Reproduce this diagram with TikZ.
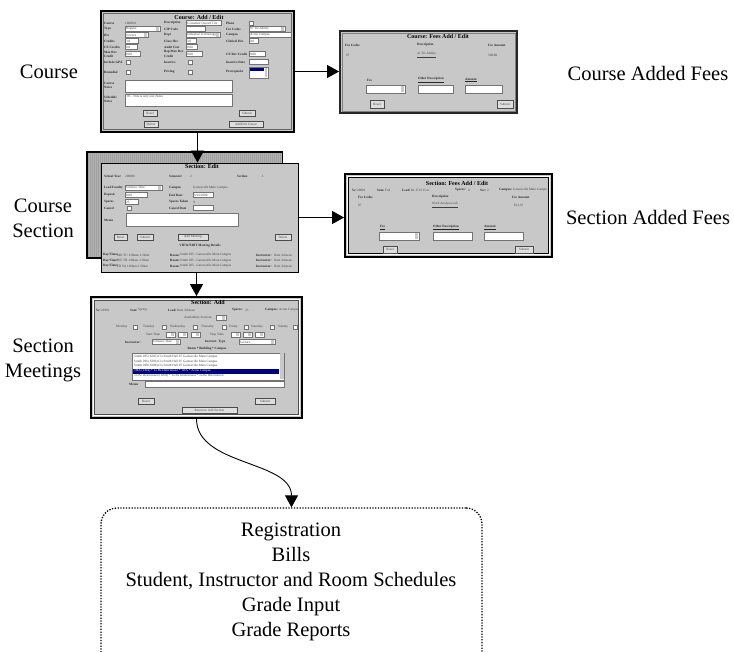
\documentclass[tikz,border=0pt]{standalone}
\usepackage{fontspec}
\setmainfont{Liberation Serif}
\usetikzlibrary{arrows.meta,fit}
\definecolor{scr}{RGB}{200,200,200}
\definecolor{navy}{RGB}{0,0,128}
\newcounter{tn}
\newcommand\tl[4][tlab]{\stepcounter{tn}\node[#1] (t\arabic{tn}) at ({#2},{#3}) {#4};}
\newcommand\myfld[4]{\draw[fldst] (#1,#2) rectangle (#3,#4);}
\newcommand\mydd[4]{\draw[fldst] (#1,#2) rectangle (#3,#4);\fill[scr] ({#3-4},{#2+0.6}) rectangle ({#3-0.6},{#4-0.6});}
\newcommand\mycb[2]{\draw[fldst] (#1,{#2-2}) rectangle ({#1+4},{#2+2});}
\newcommand\mybtn[5]{\draw[btnst] (#1,#2) rectangle (#3,#4);\tl[tval,anchor=center]{(#1+#3)/2}{(#2+#4)/2}{#5}}
\tikzset{
  tlab/.style={font=\fontsize{3.3}{3.8}\selectfont\bfseries, anchor=west, inner sep=0, text=black!85},
  tval/.style={font=\fontsize{3.3}{3.8}\selectfont, anchor=west, inner sep=0, text=black!75},
  ttitle/.style={font=\fontsize{6}{7}\selectfont\bfseries, inner sep=0},
  bigtxt/.style={font=\fontsize{20.5}{25}\selectfont, align=center, inner sep=0},
  fldst/.style={fill=white, draw=black!55, line width=0.35pt},
  btnst/.style={fill=scr!60!white, draw=black!70, line width=0.4pt},
  shot/.style={fill=scr, draw=black, line width=1.6pt, inner sep=0},
  arr/.style={draw=black, line width=0.9pt, -{Triangle[length=12pt,width=13pt]}},
}
\begin{document}
\begin{tikzpicture}[x=1pt,y=-1pt]
\useasboundingbox (0,0) rectangle (734,652);
\clip (0,0) rectangle (734,652);
\fill[white] (0,0) rectangle (734,652);

% ---------------- Course: Add / Edit
\node[shot, fit={(101,11) (294,132)}] (course) {};
\draw[black!60, line width=0.5pt] (103.5,13.5) rectangle (291.5,129.5);
\node[ttitle] (tcourse) at (199,17) {Course: Add / Edit};
\tl{104}{23}{Course}\tl[tval]{125}{23}{1000011}
\tl{164}{23}{Description}\myfld{186}{20.5}{221}{25.5}\tl[tval]{187}{23}{Consumer Owned Tire}
\tl{226}{23}{Phase}\mycb{249}{23}
\tl{104}{29}{Type}\mydd{125}{26.5}{160}{31.5}\tl[tval]{126}{29}{Regular}
\tl{164}{29}{CIP Code}\myfld{186}{26.5}{205}{31.5}
\tl{226}{29}{Fee Codes}\mydd{249}{26.5}{285}{31.5}\tl[tval]{250}{29}{07 Tix Ability}
\tl{104}{35}{Div}\mydd{125}{32.5}{148}{37.5}\tl[tval]{126}{35}{Science}
\tl{164}{35}{Dept}\mydd{186}{32.5}{220}{37.5}\tl[tval]{187}{35}{Industrial Technology}
\tl{226}{35}{Campus}\myfld{249}{32.5}{291}{37.5}\tl[tval]{250}{35}{Acme Campus}
\tl{104}{41}{Credits}\myfld{125}{38.5}{138}{43.5}\tl[tval]{126}{41}{3.0}
\tl{164}{41}{Class Hrs}\myfld{186}{38.5}{196}{43.5}\tl[tval]{187}{41}{3.0}
\tl{226}{41}{Clinical Hrs}\myfld{249}{38.5}{258}{43.5}\tl[tval]{250}{41}{0.0}
\tl{104}{47}{CE Credits}\myfld{125}{44.5}{137}{49.5}\tl[tval]{126}{47}{0.0}
\tl{164}{47}{Audit Cost}\myfld{186}{44.5}{197}{49.5}\tl[tval]{187}{47}{0.00}
\tl{104}{52}{Max Rev}\tl{104}{56}{Credit}\myfld{125}{51.5}{140}{56.5}\tl[tval]{126}{54}{0.00}
\tl{164}{52}{Rep Max Rev}\tl{164}{56}{Credit}\myfld{186}{51.5}{202}{56.5}\tl[tval]{187}{54}{0.00}
\tl{226}{54}{CE Rev Credit}\myfld{249}{51.5}{265}{56.5}\tl[tval]{250}{54}{0.00}
\tl{104}{62}{Include GPA}\mycb{126}{62}
\tl{164}{62}{Inactive}\mycb{188}{62}
\tl{226}{62}{Inactive Date}\myfld{249}{59.5}{268}{64.5}
\tl{104}{72}{Remedial}\mycb{126}{72}
\tl{164}{72}{Pricing}\mycb{188}{72}
\tl{226}{72}{Prerequisite}\myfld{249}{67}{268}{78}
\fill[navy] (249.6,67.6) rectangle (264,71.2);
\fill[scr] (264.5,67.6) rectangle (267.4,77.4);
\tl{104}{83}{Course}\tl{104}{87}{Notes}\myfld{125}{80}{232}{92}
\tl{104}{97}{Schedule}\tl{104}{101}{Notes}\myfld{125}{94}{232}{106}
\tl[tval]{127}{96.8}{05 - This is only one Notes}
\mybtn{143}{110}{157}{116}{Reset}
\mybtn{239}{110}{255}{116}{Submit}
\mybtn{144}{121}{158}{127}{Delete}
\mybtn{229}{121}{263}{127}{Add/Edit Course}

% ---------------- Course: Fees Add / Edit
\node[shot, draw=black!85, line width=1.8pt, fit={(340,31) (517,113)}] (cfees) {};
\draw[black!50, line width=0.4pt] (342,33) rectangle (515,111);
\node[ttitle] (tcfees) at (438,36) {Course: Fees Add / Edit};
\tl{345}{45}{Fee Codes}\tl{417}{45}{Description}\tl{488}{45}{Fee Amount}
\tl[tval]{346}{55}{07}\tl[tval]{417}{55}{\underline{At Tix Ability}}\tl[tval]{488}{55}{500.00}
\tl{367}{80}{Fee}\mydd{366}{85}{405}{93}
\tl{418}{80}{\underline{Other Description}}\myfld{418}{85}{453}{93}
\tl{465}{80}{\underline{Amount}}\myfld{465}{85}{502}{93}
\mybtn{370}{100}{384}{108}{Reset}
\mybtn{497}{100}{513}{108}{Submit}

% ---------------- Section: Edit (stacked)
\node[fill=scr!80!black, draw=black, line width=1.4pt, inner sep=0, fit={(87,152) (282,258)}] (secb) {};
\foreach \xx in {89,91,...,281} \draw[black!30, line width=0.5pt] (\xx,153) -- (\xx,257);
\node[shot, line width=0.9pt, fit={(101,163) (298,272)}] (secf) {};
\node[ttitle] (tsec) at (202,166.5) {Section: Edit};
\tl{104}{176}{School Year}\tl[tval]{125}{176}{200001}
\tl{169}{176}{Semester}\tl[tval]{190}{176}{2}
\tl{237}{176}{Section}\tl[tval]{262}{176}{1}
\tl{104}{188}{Lead Faculty}\mydd{125}{185.5}{162}{190.5}\tl[tval]{126}{188}{Johnson, Dale}
\tl{169}{188}{Campus}\tl[tval]{193}{188}{Gainesville Main Campus}
\tl{104}{195}{Deposit}\myfld{125}{192.5}{147}{197.5}\tl[tval]{126}{195}{0.00}
\tl{169}{195}{End Date}\myfld{193}{192.5}{213}{197.5}\tl[tval]{194}{195}{5/01/2000}
\tl{104}{202}{Spaces}\myfld{125}{199.5}{138}{204.5}\tl[tval]{126}{202}{25}
\tl{169}{202}{Spaces Taken}\tl[tval]{193}{202}{0}
\tl{104}{208}{Cancel}\mycb{127}{208}
\tl{169}{208}{Cancel Date}\myfld{193}{205.5}{213}{210.5}
\tl{104}{220}{Memo}\myfld{126}{213}{238}{226}
\mybtn{114}{234}{127}{240}{Reset}
\mybtn{137}{234}{153}{240}{Submit}
\mybtn{178}{234}{208}{240}{Add Meeting}
\mybtn{275}{234}{291}{240}{Delete}
\node[tlab, anchor=center] (tview) at (200,246) {VIEW/EDIT Meeting Details};
\foreach \yy/\dd in {255/MO TU 1:00am-1:50am, 260.5/WE TH 1:00am-1:50am, 266/FR SA 1:00am-1:50am}{
  \tl{103}{\yy}{Day/Time:}\tl[tval]{117}{\yy}{\dd}
  \tl{170}{\yy}{Room:}\tl[tval]{180}{\yy}{Smith 205 - Gainesville Main Campus}
  \tl{256}{\yy}{Instructor:}\tl[tval]{274}{\yy}{Dale Johnson}
}

% ---------------- Section: Fees Add / Edit
\node[shot, line width=1.8pt, fit={(345,174) (552,257)}] (sfees) {};
\draw[white, line width=0.8pt] (347.2,176.2) rectangle (549.8,254.8);
\draw[black, line width=0.6pt] (348.3,177.3) rectangle (548.7,253.7);
\node[ttitle] (tsfees) at (457,183) {Section: Fees Add / Edit};
\tl{352}{190}{Sc:}\tl[tval]{357}{190}{20001}
\tl{377}{190}{Sem:}\tl[tval]{385}{190}{Fall}
\tl{402}{190}{Lead:}\tl[tval]{411}{190}{Dr. E.D. Fort}
\tl{455}{190}{Spaces:}\tl[tval]{468}{190}{0}
\tl{480}{190}{Sec:}\tl[tval]{487}{190}{2}
\tl{499}{190}{Campus:}\tl[tval]{513}{190}{Gainesville Main Campus}
\tl{358}{197}{Fee Codes}\tl{432}{197}{Description}\tl{512}{197}{Fee Amount}
\tl[tval]{358}{205}{07}\tl[tval]{432}{205}{\underline{Work Analysis Lab}}\tl[tval]{514}{205}{\$21.35}
\tl{380}{227.5}{\underline{Fee}}\mydd{379}{232}{419}{240}
\tl{433}{227.5}{\underline{Other Description}}\myfld{433}{232}{472}{240}
\tl{484}{227.5}{\underline{Amount}}\myfld{484}{232}{523}{240}
\mybtn{383}{246}{397}{253}{Reset}
\mybtn{515}{246}{533}{253}{Submit}

% ---------------- Section: Add
\node[shot, line width=1.8pt, fit={(91,297) (302,418)}] (sadd) {};
\draw[white, line width=0.8pt] (93.2,299.2) rectangle (299.8,415.8);
\draw[black!70, line width=0.5pt] (94.3,300.3) rectangle (298.7,414.7);
\node[ttitle] (tsadd) at (208,302.5) {Section: Add};
\tl{96}{310}{Sc:}\tl[tval]{101}{310}{20301}
\tl{130}{310}{Sem:}\tl[tval]{138}{310}{Spring}
\tl{168}{310}{Lead:}\tl[tval]{177}{310}{Dale Johnson}
\tl{232}{310}{Spaces:}\tl[tval]{245}{310}{25}
\tl{265}{310}{Campus:}\tl[tval]{279}{310}{Acme Campus}
\tl[tval]{184}{318}{Availability Sections}\mydd{216}{315.5}{226}{320.5}
\foreach \lx/\cx/\dn in {116/133/Monday, 143/162/Tuesday, 170/193/Wednesday, 201/222/Thursday, 229/244/Friday, 251/270/Saturday, 278/293/Sunday}{
  \tl[tval]{\lx}{327}{\dn}\mycb{\cx}{327}
}
\tl[tval]{146}{334.5}{Start Time}
\mydd{166}{332}{175}{337}\mydd{178}{332}{187}{337}\mydd{191}{332}{200}{337}
\tl[tval]{210}{334.5}{Stop Time}
\mydd{231}{332}{240}{337}\mydd{243}{332}{252}{337}\mydd{255}{332}{264}{337}
\tl{125}{342}{Instructor:}\mydd{152}{339.5}{180}{344.5}\tl[tval]{153}{342}{Johnson, Dale}
\tl{205}{342}{Instruct. Type}\mydd{239}{339.5}{275}{344.5}\tl[tval]{240}{342}{Lecture}
\node[tlab, anchor=center] (troom) at (207,348.5) {Room * Building * Campus};
\myfld{132}{353}{284}{380}
\fill[navy] (132.5,369) rectangle (279,373.6);
\fill[scr] (279.5,353.5) rectangle (283.5,379.5);
\tl[tval]{134}{357}{Smith 205 (S205) Cls Smith Hall 07 Gainesville Main Campus}
\tl[tval]{134}{361.6}{Smith 206 (S206) Cls Smith Hall 07 Gainesville Main Campus}
\tl[tval]{134}{366.2}{Smith 208 (S208) Cls Smith Hall 07 Gainesville Main Campus}
\tl[tval,text=white]{134}{371.2}{TBA (TBA) * To Be Determined * TBA * Acme Campus}
\tl[tval]{134}{376}{To Be Determined (TBD) * To Be Determined * To Be Determined}
\tl{129}{384}{Memo}\myfld{145}{381}{284}{387}
\mybtn{138}{398}{154}{404}{Reset}
\mybtn{255}{398}{275}{404}{Submit}
\mybtn{182}{407}{237}{413}{Return to Add Section}

% ---------------- Result box
\node[draw, line width=1.3pt, dash pattern=on 1.3pt off 1.5pt, rounded corners=16pt, inner sep=0, fit={(101,508) (482,668)}] (resbox) {};
\node[bigtxt] (restext) at (291,582) {Registration\\Bills\\Student, Instructor and Room Schedules\\Grade Input\\Grade Reports};

% ---------------- Labels
\node[bigtxt] (lcourse) at (49,72) {Course};
\node[bigtxt] (lsec) at (43,218) {Course\\Section};
\node[bigtxt] (lmeet) at (43,360) {Section\\Meetings};
\node[bigtxt] (lcf) at (648,73) {Course Added Fees};
\node[bigtxt] (lsf) at (648,217) {Section Added Fees};

% ---------------- Connectors
\draw[arr] (course.east) -- (cfees.west |- course.east);
\draw[arr] (secf.east) -- (sfees.west |- secf.east);
\draw[arr] (course.south) -- (course.south |- secf.north);
\draw[arr] (secf.south -| sadd.north) -- (sadd.north);
\draw[arr] (sadd.south) .. controls +(0,47) and +(0,-47) .. (resbox.north);
\end{tikzpicture}
\end{document}
